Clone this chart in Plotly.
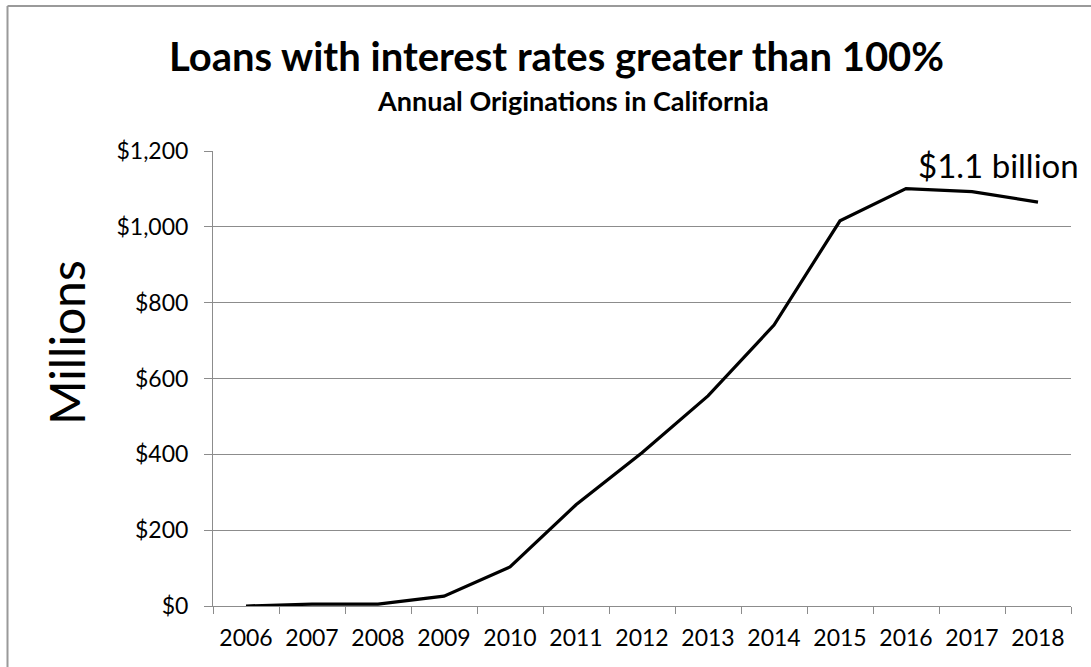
import plotly.graph_objects as go

years = ["2006", "2007", "2008", "2009", "2010", "2011", "2012", "2013", "2014", "2015", "2016", "2017", "2018"]
originations = [0, 5, 5, 26, 103, 267, 404, 554, 741, 1016, 1101, 1093, 1065]
y_ticks = [0, 200, 400, 600, 800, 1000, 1200]
y_tick_labels = ["$0", "$200", "$400", "$600", "$800", "$1,000", "$1,200"]

W, H = 1091, 667
L, R, T, B = 213, 1071, 151, 606

def px(x):
    return (x - L) / (R - L)

def py(y):
    return (B - y) / (B - T)

fig = go.Figure()
fig.add_trace(go.Scatter(
    x=years, y=originations, mode="lines",
    line=dict(color="black", width=3.2), hoverinfo="x+y", showlegend=False,
))

fig.update_layout(
    width=W, height=H,
    margin=dict(l=L, r=W - R, t=T, b=H - B),
    paper_bgcolor="white", plot_bgcolor="white",
    font=dict(family="Lato, 'Open Sans', sans-serif", color="black"),
    xaxis=dict(
        type="category", showgrid=False, showline=True, linecolor="#8c8c8c", linewidth=1,
        ticks="outside", tickson="boundaries", ticklen=7, tickcolor="#8c8c8c",
        tickfont=dict(size=23), ticklabelstandoff=11, range=[-0.5, 12.5], fixedrange=True,
    ),
    yaxis=dict(
        range=[0, 1200], tickvals=y_ticks, ticktext=y_tick_labels,
        showgrid=True, gridcolor="#8c8c8c", gridwidth=1,
        showline=True, linecolor="#8c8c8c", linewidth=1,
        ticks="outside", ticklen=8, tickcolor="#8c8c8c",
        tickfont=dict(size=23), ticklabelstandoff=11, zeroline=False, fixedrange=True,
    ),
    shapes=[
        dict(type="line", xref="paper", yref="paper", x0=px(7.5), x1=px(1091), y0=py(6), y1=py(6),
             line=dict(color="#9a9a9a", width=2)),
        dict(type="line", xref="paper", yref="paper", x0=px(7.5), x1=px(7.5), y0=py(6), y1=py(680),
             line=dict(color="#9a9a9a", width=2)),
    ],
    annotations=[
        dict(text="<b>Loans with interest rates greater than 100%</b>", xref="paper", yref="paper",
             x=px(556), y=py(56), showarrow=False, font=dict(size=40), xanchor="center", yanchor="middle"),
        dict(text="<b>Annual Originations in California</b>", xref="paper", yref="paper",
             x=px(573), y=py(101), showarrow=False, font=dict(size=27), xanchor="center", yanchor="middle"),
        dict(text="Millions", xref="paper", yref="paper", x=px(66), y=py(343), textangle=-90,
             showarrow=False, font=dict(size=48), xanchor="center", yanchor="middle"),
        dict(text="$1.1 billion", xref="paper", yref="paper", x=px(998), y=py(165),
             showarrow=False, font=dict(size=33), xanchor="center", yanchor="middle"),
    ],
)

fig.write_html("out.html")
